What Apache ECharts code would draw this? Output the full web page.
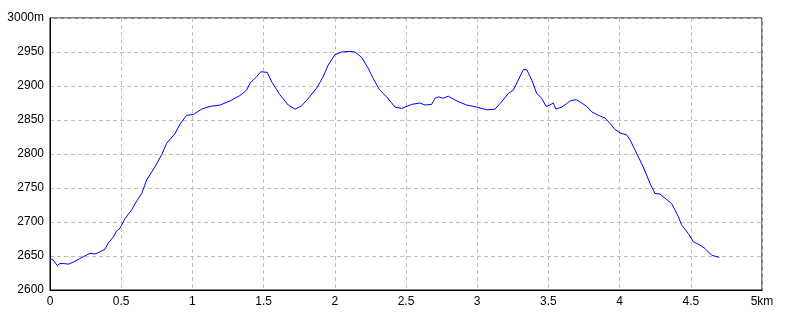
<!DOCTYPE html>
<html><head><meta charset="utf-8">
<script src="https://cdn.jsdelivr.net/npm/echarts@6/dist/echarts.min.js"></script>
<style>html,body{margin:0;padding:0;background:#fff}#c{width:800px;height:320px}</style>
</head><body><div id="c"></div>
<script>
const distanceKm = [0,0.023,0.051,0.070,0.093,0.129,0.164,0.199,0.234,0.281,0.316,0.351,0.386,0.409,0.445,0.468,0.492,0.527,0.574,0.609,0.644,0.679,0.737,0.784,0.820,0.878,0.913,0.960,1.006,1.065,1.124,1.194,1.264,1.334,1.381,1.404,1.452,1.480,1.526,1.557,1.615,1.673,1.721,1.767,1.803,1.873,1.919,1.954,2.001,2.048,2.107,2.142,2.189,2.235,2.270,2.312,2.364,2.423,2.470,2.540,2.598,2.633,2.680,2.704,2.727,2.762,2.797,2.856,2.926,2.997,3.067,3.125,3.172,3.218,3.254,3.289,3.324,3.348,3.383,3.418,3.453,3.483,3.511,3.534,3.553,3.593,3.628,3.652,3.694,3.734,3.769,3.804,3.850,3.897,3.933,3.968,4.003,4.050,4.073,4.108,4.166,4.213,4.249,4.284,4.319,4.366,4.412,4.435,4.482,4.518,4.565,4.600,4.647,4.700];
const elevationM = [2646,2644,2636,2639,2639,2638,2641,2645,2649,2654,2653,2656,2660,2669,2678,2687,2691,2705,2718,2731,2742,2762,2781,2799,2816,2830,2844,2857,2858,2866,2870,2872,2878,2886,2894,2904,2914,2921,2920,2906,2887,2872,2866,2871,2879,2897,2914,2931,2946,2950,2951,2950,2942,2926,2911,2895,2884,2869,2867,2873,2875,2872,2873,2882,2884,2882,2885,2878,2872,2869,2865,2866,2877,2889,2894,2909,2924,2924,2909,2889,2882,2870,2872,2875,2866,2869,2874,2878,2880,2875,2870,2862,2857,2853,2845,2836,2831,2828,2821,2806,2781,2757,2742,2741,2735,2727,2708,2696,2683,2671,2666,2661,2651,2648];
const xTickLabels = {'0':'0','0.5':'0.5','1':'1','1.5':'1.5','2':'2','2.5':'2.5','3':'3','3.5':'3.5','4':'4','4.5':'4.5','5':'5km'};
const yTopLabel = '3000m';

const points = distanceKm.map((d,i)=>[d, elevationM[i]]);
const chart = echarts.init(document.getElementById('c'), null, {renderer:'canvas'});
const font = 'Liberation Sans';
chart.setOption({
  animation:false,
  backgroundColor:'#fff',
  grid:{left:50,right:38,top:18,bottom:30,show:true,borderColor:'#000',borderWidth:1,backgroundColor:'transparent'},
  xAxis:{type:'value',min:0,max:5,interval:0.5,
    axisLine:{show:true,lineStyle:{color:'#000',width:1}},
    axisTick:{show:false},
    axisLabel:{color:'#000',fontFamily:font,fontSize:12,margin:6,
      formatter:v=>{const k=String(Math.round(v*10)/10);return xTickLabels[k]!==undefined?xTickLabels[k]:k;}},
    splitLine:{show:true,lineStyle:{color:'#c0c0c0',type:[4,3],width:1}}},
  yAxis:{type:'value',min:2600,max:3000,interval:50,
    axisLine:{show:true,lineStyle:{color:'#000',width:1}},
    axisTick:{show:false},
    axisLabel:{color:'#000',fontFamily:font,fontSize:12,margin:6,
      formatter:v=>v===3000?yTopLabel:String(v)},
    splitLine:{show:true,lineStyle:{color:'#c0c0c0',type:[4,3],width:1}}},
  series:[{type:'line',data:points,showSymbol:false,symbol:'none',smooth:false,
    lineStyle:{color:'#0000ff',width:1},itemStyle:{color:'#0000ff'}}]
});
</script></body></html>
